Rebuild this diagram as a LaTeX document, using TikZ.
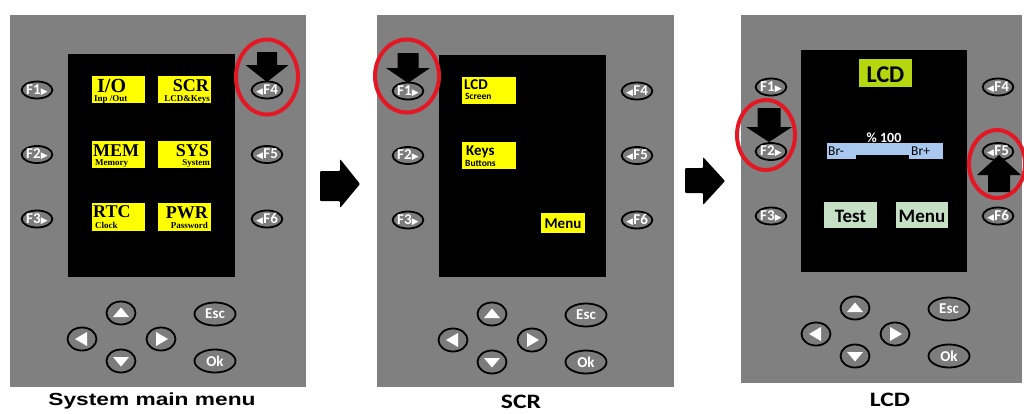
\documentclass[tikz,border=0pt]{standalone}
\usepackage{fontspec}
\setmainfont{Liberation Serif}
\newfontfamily\carl{Carlito}
\newfontfamily\labsans[FakeStretch=1.3]{Liberation Sans}
\newfontfamily\labcarl[FakeStretch=1.25]{Carlito}
\newfontfamily\tms{Liberation Serif}
\newfontfamily\dvs{DejaVu Sans}
\usetikzlibrary{shapes.geometric,calc}
\definecolor{panelgray}{RGB}{128,128,128}
\definecolor{btngray}{RGB}{124,124,124}
\definecolor{ringred}{RGB}{228,24,36}
\definecolor{lcdyellow}{RGB}{255,255,0}
\definecolor{limegreen}{RGB}{182,214,16}
\definecolor{barblue}{RGB}{168,200,240}
\definecolor{palegreen}{RGB}{198,224,198}
\newcommand\fl[1]{#1\hspace{0.3pt}{\dvs\fontsize{9}{9}\selectfont ▶}}
\newcommand\fr[1]{{\dvs\fontsize{9}{9}\selectfont ◀}\hspace{0.3pt}#1}
\newcommand\devbtns[5]{%
  \node[fbtn] (#1f1) at (#2,#4) {\fl{F1}};
  \node[fbtn] (#1f2) at (#2,{#4+64.5}) {\fl{F2}};
  \node[fbtn] (#1f3) at (#2,{#4+129}) {\fl{F3}};
  \node[fbtn] (#1f4) at (#3,#4) {\fr{F4}};
  \node[fbtn] (#1f5) at (#3,{#4+64.5}) {\fr{F5}};
  \node[fbtn] (#1f6) at (#3,{#4+129}) {\fr{F6}};
  \node[navbtn] (#1up) at ({#2+84},#5) {};
  \node[navbtn] (#1dn) at ({#2+84},{#5+48}) {};
  \node[navbtn] (#1lt) at ({#2+45},{#5+26}) {};
  \node[navbtn] (#1rt) at ({#2+124},{#5+26}) {};
  \node[wbtn] (#1esc) at ({#2+178},{#5+1}) {Esc};
  \node[wbtn] (#1ok) at ({#2+178},{#5+48}) {Ok};
  \fill[white] ($(#1up)+(-8,4)$) -- ($(#1up)+(8,4)$) -- ($(#1up)+(0,-5.5)$) -- cycle;
  \fill[white] ($(#1dn)+(-8,-4)$) -- ($(#1dn)+(8,-4)$) -- ($(#1dn)+(0,5.5)$) -- cycle;
  \fill[white] ($(#1lt)+(5,-7)$) -- ($(#1lt)+(5,7)$) -- ($(#1lt)+(-7,0)$) -- cycle;
  \fill[white] ($(#1rt)+(-5,-7)$) -- ($(#1rt)+(-5,7)$) -- ($(#1rt)+(7,0)$) -- cycle;
}
\begin{document}
\begin{tikzpicture}[x=1pt,y=-1pt,
  fbtn/.style={ellipse, draw=black, line width=1.8pt, fill=btngray, minimum width=30pt, minimum height=17pt, inner sep=0pt, text=white, font=\carl\bfseries\fontsize{15}{15}\selectfont},
  navbtn/.style={ellipse, draw=black, line width=1.8pt, fill=btngray, minimum width=29pt, minimum height=23pt, inner sep=0pt},
  wbtn/.style={ellipse, draw=black, line width=1.8pt, fill=btngray, minimum width=41pt, minimum height=23pt, inner sep=0pt, text=white, font=\carl\bfseries\fontsize{15}{15}\selectfont},
  ring/.style={ellipse, draw=ringred, line width=4pt, inner sep=0pt},
  serbig/.style={inner sep=0pt, font=\tms\bfseries\fontsize{18}{18}\selectfont},
  sersmall/.style={inner sep=0pt, font=\tms\bfseries\fontsize{9}{9}\selectfont},
  calbig/.style={inner sep=0pt, font=\carl\bfseries\fontsize{15}{15}\selectfont},
  calsmall/.style={inner sep=0pt, font=\carl\bfseries\fontsize{9.5}{9.5}\selectfont},
  hint/.style={fill=black}
]
\useasboundingbox (0,0) rectangle (1024,413);
\fill[white] (0,0) rectangle (1024,413);
% panels
\fill[panelgray] (10,15) rectangle (306,387);
\fill[panelgray] (377,15) rectangle (674,387);
\fill[panelgray] (741,15) rectangle (1022,383);
% screens
\fill[black] (68,54) rectangle (235,277);
\fill[black] (439,55) rectangle (606,277);
\fill[black] (801,50) rectangle (967,272);
% panel 1 menu boxes
\fill[lcdyellow] (92,76) rectangle (145,103);
\fill[lcdyellow] (158,76) rectangle (211,103);
\fill[lcdyellow] (92,141) rectangle (145,168);
\fill[lcdyellow] (158,141) rectangle (211,168);
\fill[lcdyellow] (92,203) rectangle (145,231);
\fill[lcdyellow] (158,203) rectangle (211,231);
\node[serbig, anchor=base west, font=\tms\bfseries\fontsize{20}{20}\selectfont] (io) at (97,92) {I/O};
\node[sersmall, anchor=base west] (iot) at (94,101) {Inp /Out};
\node[serbig, anchor=base east] (scr) at (209,91) {SCR};
\node[sersmall, anchor=base east] (scrt) at (210,101) {LCD\&Keys};
\node[serbig, anchor=base west] (mem) at (93,156) {MEM};
\node[sersmall, anchor=base west] (memt) at (95,165.5) {Memory};
\node[serbig, anchor=base east] (sys) at (209,156) {SYS};
\node[sersmall, anchor=base east] (syst) at (210,165.5) {System};
\node[serbig, anchor=base west] (rtc) at (93,217) {RTC};
\node[sersmall, anchor=base west] (rtct) at (95,228) {Clock};
\node[serbig, anchor=base east] (pwr) at (208,218) {PWR};
\node[sersmall, anchor=base east] (pwrt) at (208,228) {Password};
% panel 2 boxes
\fill[lcdyellow] (462,77) rectangle (516,104);
\fill[lcdyellow] (462,142) rectangle (516,169);
\fill[lcdyellow] (541,213) rectangle (585,233);
\node[calbig, anchor=base west] (lcd2) at (464,89) {LCD};
\node[calsmall, anchor=base west] (lcd2t) at (465,99) {Screen};
\node[calbig, anchor=base west] (keys) at (466,155) {Keys};
\node[calsmall, anchor=base west] (keyst) at (465,166) {Buttons};
\node[calbig, anchor=base] (menu2) at (563,228) {Menu};
% panel 3 contents
\fill[limegreen] (859,59) rectangle (912,87);
\node[inner sep=0pt, anchor=base, font=\carl\bfseries\fontsize{24}{24}\selectfont] (lcd3) at (885.5,82.5) {LCD};
\fill[barblue] (827,143) rectangle (856,159);
\fill[barblue] (855,143) rectangle (910,155);
\fill[barblue] (909,143) rectangle (943,159);
\node[inner sep=0pt, anchor=base, text=white, font=\carl\bfseries\fontsize{14}{14}\selectfont] (pct) at (884,142) {\% 100};
\node[inner sep=0pt, anchor=base west, font=\carl\fontsize{13.5}{13.5}\selectfont] (brm) at (828,155.5) {Br-};
\node[inner sep=0pt, anchor=base west, font=\carl\fontsize{13.5}{13.5}\selectfont] (brp) at (911,155.5) {Br+};
\fill[palegreen] (824,202) rectangle (877,228);
\fill[palegreen] (896,202) rectangle (948,228);
\node[inner sep=0pt, anchor=base, font=\carl\bfseries\fontsize{19}{19}\selectfont] (test) at (850.5,222.5) {Test};
\node[inner sep=0pt, anchor=base, font=\carl\bfseries\fontsize{19}{19}\selectfont] (menu3) at (922,222.5) {Menu};
% buttons
\devbtns{a}{37}{267}{90}{313}
\devbtns{b}{408}{637}{91}{314}
\devbtns{c}{771}{998}{87}{308}
% red rings
\node[ring, minimum width=62pt, minimum height=75pt] (ra) at (267,77) {};
\node[ring, minimum width=64pt, minimum height=73pt] (rb) at (407,76) {};
\node[ring, minimum width=58pt, minimum height=70pt] (rc) at (766,135) {};
\node[ring, minimum width=56pt, minimum height=68pt] (rd) at (997,164) {};
% hint arrows
\fill[hint] (257,52) -- (277,52) -- (277,65) -- (288.5,65) -- (267,82) -- (245.5,65) -- (257,65) -- cycle;
\fill[hint] (397.5,53) -- (418.5,53) -- (418.5,68) -- (430,68) -- (408,83) -- (386,68) -- (397.5,68) -- cycle;
\fill[hint] (757.5,108) -- (780.5,108) -- (780.5,127) -- (792,127) -- (769,142) -- (746,127) -- (757.5,127) -- cycle;
\fill[hint] (988,192) -- (1010,192) -- (1010,175) -- (1021,175) -- (999,155) -- (977,175) -- (988,175) -- cycle;
% flow arrows between panels
\fill[black, rounded corners=1pt] (320,171) -- (340,171) -- (340,159) -- (360,184) -- (340,208) -- (340,201) -- (320,201) -- cycle;
\fill[black, rounded corners=1pt] (685,168) -- (703,168) -- (703,157) -- (725,181) -- (703,205) -- (703,193) -- (685,193) -- cycle;
% captions
\node[inner sep=0pt, anchor=base, font=\labsans\bfseries\fontsize{17.5}{17.5}\selectfont] (cap1) at (152,405) {System main menu};
\node[inner sep=0pt, anchor=base, font=\labcarl\bfseries\fontsize{20.5}{20.5}\selectfont] (cap2) at (521,408) {SCR};
\node[inner sep=0pt, anchor=base, font=\labcarl\bfseries\fontsize{20.5}{20.5}\selectfont] (cap3) at (890,406) {LCD};
\end{tikzpicture}
\end{document}
